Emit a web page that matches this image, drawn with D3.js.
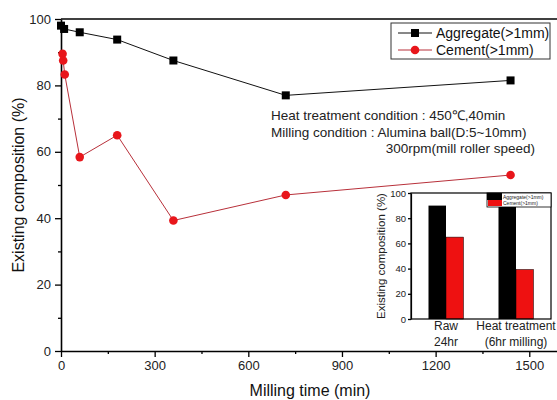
<!DOCTYPE html>
<html>
<head>
<meta charset="utf-8">
<script src="https://cdn.jsdelivr.net/npm/d3@7"></script>
<style>
  body { margin: 0; background: #fff; }
  svg { display: block; font-family: Arial, "Liberation Sans", sans-serif; }
</style>
</head>
<body>
<svg id="chart" width="557" height="400"></svg>
<script>
// main plot data (milling time in min, existing composition in %)
const aggTime = [0, 10, 60, 180, 360, 720, 1440];
const aggValue = [98, 97, 96, 93.8, 87.5, 77, 81.5];
const cemTime = [5, 7, 12, 60, 180, 360, 720, 1440];
const cemValue = [89.5, 87.5, 83.3, 58.4, 65, 39.3, 47, 53];

const xMajor = [0, 300, 600, 900, 1200, 1500];
const xMinor = [150, 450, 750, 1050, 1350];
const yMajor = [0, 20, 40, 60, 80, 100];
const yMinor = [10, 30, 50, 70, 90];

// inset bar data
const insetCats = [["Raw", "24hr"], ["Heat treatment", "(6hr milling)"]];
const insetAgg = [90, 89];
const insetCem = [65, 39.3];
const insetTicks = [0, 20, 40, 60, 80, 100];

const seriesNames = ["Aggregate(>1mm)", "Cement(>1mm)"];

const svg = d3.select('#chart');

const x = d3.scaleLinear().domain([0, 1600]).range([61, 560.5]);
const y = d3.scaleLinear().domain([0, 100]).range([351, 19]);

// frame (top + right)
svg.append('line')
  .attr('x1', x(0)).attr('x2', x(1600))
  .attr('y1', y(100)).attr('y2', y(100))
  .attr('stroke', '#000').attr('stroke-width', 1.6);
svg.append('line')
  .attr('x1', x(1600)).attr('x2', x(1600))
  .attr('y1', y(0)).attr('y2', y(100))
  .attr('stroke', '#000').attr('stroke-width', 1.6);

function styleAxis(g, fs) {
  g.select('.domain').attr('stroke', '#000').attr('stroke-width', 1.6);
  g.selectAll('.tick line').attr('stroke', '#000').attr('stroke-width', 1.3);
  g.selectAll('.tick text').attr('fill', '#222').attr('font-size', fs + 'px')
    .attr('font-family', 'Arial, "Liberation Sans", sans-serif');
}

// x axis
const gx = svg.append('g').attr('transform', `translate(0,${y(0)})`)
  .call(d3.axisBottom(x).tickValues(xMajor).tickFormat(d3.format('d'))
    .tickSize(6).tickSizeOuter(0).tickPadding(4));
styleAxis(gx, 13);
svg.append('g').attr('transform', `translate(0,${y(0)})`)
  .call(d3.axisBottom(x).tickValues(xMinor).tickSize(3).tickFormat(''))
  .call(g => { g.select('.domain').remove(); g.selectAll('line').attr('stroke', '#000').attr('stroke-width', 1.3); });

// y axis
const gy = svg.append('g').attr('transform', `translate(${x(0)},0)`)
  .call(d3.axisLeft(y).tickValues(yMajor).tickSize(6).tickSizeOuter(0).tickPadding(4));
styleAxis(gy, 13);
svg.append('g').attr('transform', `translate(${x(0)},0)`)
  .call(d3.axisLeft(y).tickValues(yMinor).tickSize(3).tickFormat(''))
  .call(g => { g.select('.domain').remove(); g.selectAll('line').attr('stroke', '#000').attr('stroke-width', 1.3); });

// axis titles
svg.append('text')
  .attr('transform', `translate(24,${(y(0) + y(100)) / 2}) rotate(-90)`)
  .attr('text-anchor', 'middle')
  .attr('font-size', '16px').attr('fill', '#111')
  .text('Existing composition (%)');
svg.append('text')
  .attr('x', 310).attr('y', 396)
  .attr('text-anchor', 'middle')
  .attr('font-size', '16px').attr('fill', '#111')
  .text('Milling time (min)');

// lines
const line = d3.line().x(d => x(d[0])).y(d => y(d[1]));
const aggPts = aggTime.map((t, i) => [t, aggValue[i]]);
const cemPts = cemTime.map((t, i) => [t, cemValue[i]]);

svg.append('path').datum(aggPts).attr('d', line)
  .attr('fill', 'none').attr('stroke', '#111').attr('stroke-width', 1);
svg.append('path').datum(cemPts).attr('d', line)
  .attr('fill', 'none').attr('stroke', '#b8303a').attr('stroke-width', 1);

svg.selectAll('.agg').data(aggPts).enter().append('rect')
  .attr('x', d => x(d[0]) - 4).attr('y', d => y(d[1]) - 4)
  .attr('width', 8).attr('height', 8).attr('fill', '#000');
svg.selectAll('.cem').data(cemPts).enter().append('circle')
  .attr('cx', d => x(d[0])).attr('cy', d => y(d[1]))
  .attr('r', 4.3).attr('fill', '#e8161b');

// legend
const lg = svg.append('g');
lg.append('rect').attr('x', 391).attr('y', 23).attr('width', 159).attr('height', 36)
  .attr('fill', '#fff').attr('stroke', '#333').attr('stroke-width', 1);
[0, 1].forEach(i => {
  const ly = 33 + i * 17;
  lg.append('line').attr('x1', 398).attr('x2', 432).attr('y1', ly).attr('y2', ly)
    .attr('stroke', i === 0 ? '#111' : '#b8303a').attr('stroke-width', 1);
  if (i === 0) {
    lg.append('rect').attr('x', 411).attr('y', ly - 4).attr('width', 8).attr('height', 8).attr('fill', '#000');
  } else {
    lg.append('circle').attr('cx', 415).attr('cy', ly).attr('r', 4.3).attr('fill', '#e8161b');
  }
  lg.append('text').attr('x', 436).attr('y', ly + 5)
    .attr('font-size', '14px').attr('fill', '#111').text(seriesNames[i]);
});

// annotation
const note = svg.append('g').attr('font-size', '13.5px').attr('fill', '#222');
note.append('text').attr('x', 271).attr('y', 120).text('Heat treatment condition : 450\u2103,40min');
note.append('text').attr('x', 271).attr('y', 137).text('Milling condition : Alumina ball(D:5~10mm)');
note.append('text').attr('x', 535).attr('y', 153).attr('text-anchor', 'end').text('300rpm(mill roller speed)');

// inset bar chart
const ix0 = d3.scaleBand().domain(insetCats.map((c, i) => i)).range([411, 551]).paddingInner(0.5).paddingOuter(0.25);
const iy = d3.scaleLinear().domain([0, 100]).range([319, 193]);
const ins = svg.append('g');
ins.append('rect').attr('x', 411).attr('y', 193).attr('width', 140).attr('height', 126).attr('fill', '#fff');

const bw = ix0.bandwidth() / 2;
insetCats.forEach((c, i) => {
  ins.append('rect').attr('x', ix0(i)).attr('y', iy(insetAgg[i]))
    .attr('width', bw).attr('height', iy(0) - iy(insetAgg[i])).attr('fill', '#000');
  ins.append('rect').attr('x', ix0(i) + bw).attr('y', iy(insetCem[i]))
    .attr('width', bw).attr('height', iy(0) - iy(insetCem[i])).attr('fill', '#ee1111')
    .attr('stroke', '#000').attr('stroke-width', 0.5);
  c.forEach((t, j) => {
    ins.append('text').attr('x', ix0(i) + bw).attr('y', 330 + j * 16)
      .attr('text-anchor', 'middle').attr('font-size', '12px').attr('fill', '#222').text(t);
  });
});

const giy = ins.append('g').attr('transform', 'translate(411,0)')
  .call(d3.axisLeft(iy).tickValues(insetTicks).tickSize(3).tickSizeOuter(0).tickPadding(2));
styleAxis(giy, 9.5);
giy.select('.domain').attr('stroke-width', 1.2);
ins.append('rect').attr('x', 411).attr('y', 193).attr('width', 140).attr('height', 126)
  .attr('fill', 'none').attr('stroke', '#000').attr('stroke-width', 1.2);

ins.append('text')
  .attr('transform', `translate(385,${(iy(0) + iy(100)) / 2}) rotate(-90)`)
  .attr('text-anchor', 'middle').attr('font-size', '11.5px').attr('fill', '#222')
  .text('Existing composition (%)');

// inset legend
const il = ins.append('g');
il.append('rect').attr('x', 487).attr('y', 193).attr('width', 64).attr('height', 14)
  .attr('fill', '#fff').attr('stroke', '#000').attr('stroke-width', 0.8);
il.append('rect').attr('x', 487).attr('y', 193).attr('width', 15).attr('height', 7).attr('fill', '#000');
il.append('rect').attr('x', 488).attr('y', 200).attr('width', 14).attr('height', 6).attr('fill', '#ee1111');
seriesNames.forEach((n, i) => {
  il.append('text').attr('x', 503).attr('y', 199 + i * 6)
    .attr('font-size', '5px').attr('fill', '#222').text(n);
});
</script>
</body>
</html>
